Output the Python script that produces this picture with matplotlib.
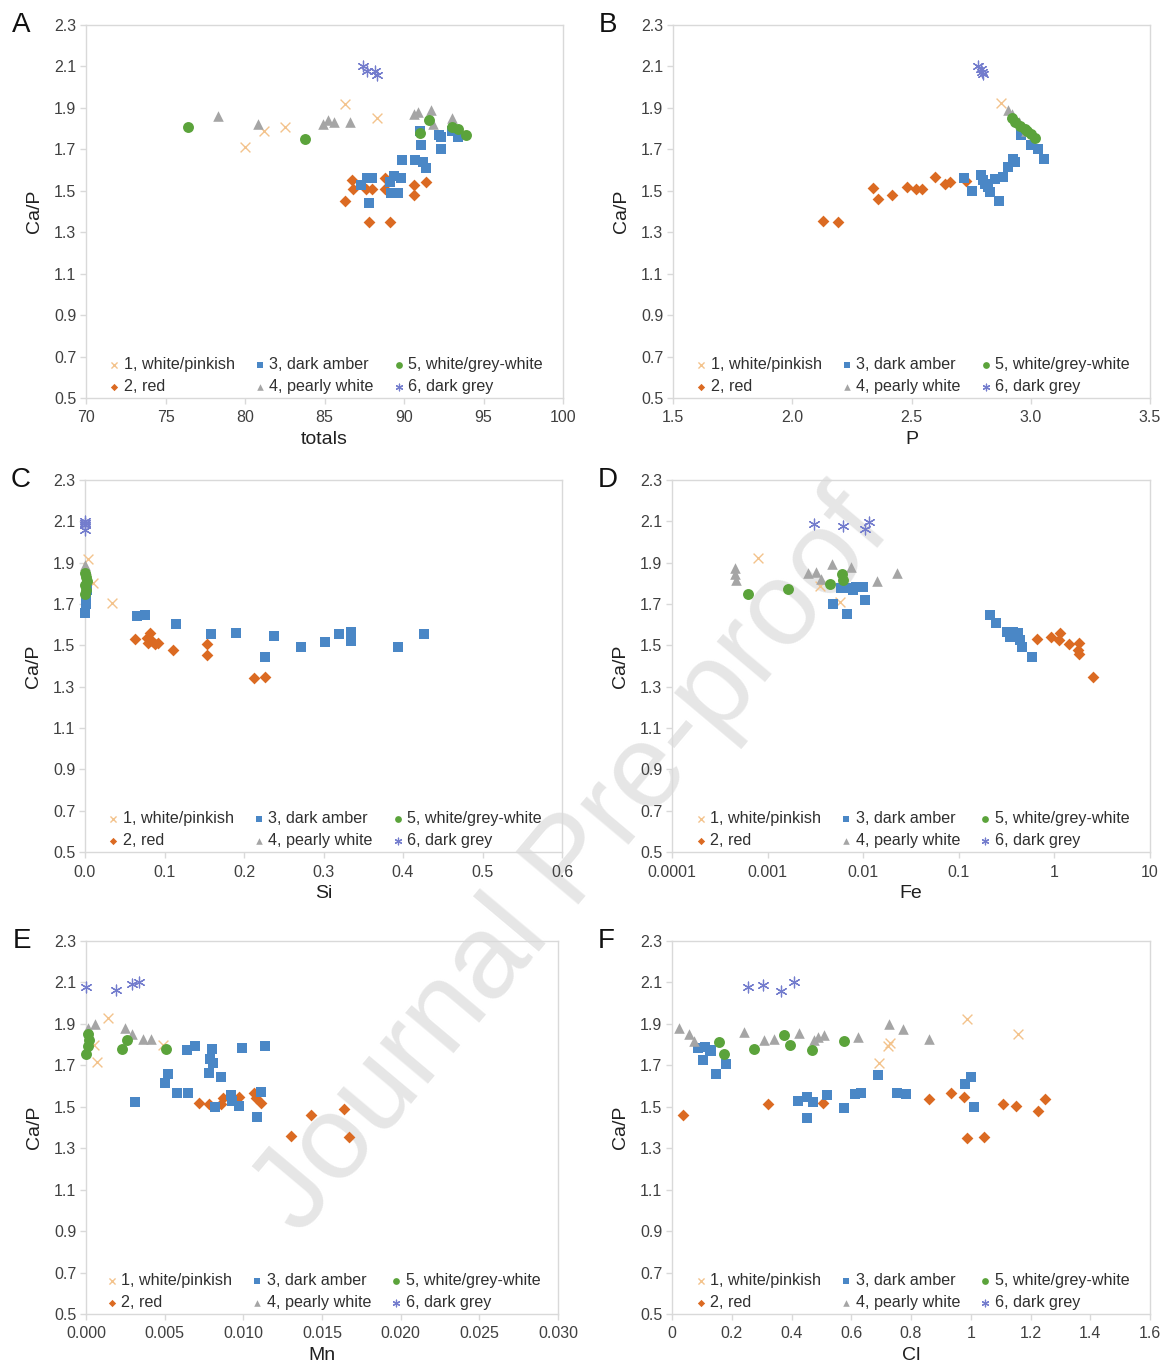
import matplotlib
matplotlib.use("Agg")
import matplotlib.pyplot as plt
from matplotlib.ticker import FixedLocator, NullLocator

plt.rcParams['font.family'] = ['Liberation Sans', 'DejaVu Sans']

# ---------------- data ----------------
group_labels = ["1, white/pinkish", "2, red", "3, dark amber",
                "4, pearly white", "5, white/grey-white", "6, dark grey"]

# Panel A: totals
A_g1_x = [80.0, 81.2, 82.5, 86.3, 88.3]
A_g1_y = [1.71, 1.79, 1.81, 1.92, 1.85]
A_g2_x = [86.7, 86.8, 87.6, 88.0, 88.8, 88.8, 90.6, 91.4, 90.6, 86.3, 87.8, 89.1]
A_g2_y = [1.55, 1.51, 1.51, 1.51, 1.56, 1.51, 1.53, 1.54, 1.48, 1.45, 1.35, 1.35]
A_g3_x = [91.0, 92.2, 92.3, 93.0, 93.4, 91.1, 92.3, 89.9, 90.7, 91.2, 91.4,
          87.7, 88.0, 89.4, 89.8, 87.3, 89.2, 89.6, 87.8, 89.1]
A_g3_y = [1.79, 1.77, 1.76, 1.79, 1.76, 1.72, 1.70, 1.65, 1.65, 1.64, 1.61,
          1.56, 1.56, 1.57, 1.56, 1.53, 1.49, 1.49, 1.44, 1.54]
A_g4_x = [78.3, 80.8, 84.9, 85.2, 85.6, 86.6, 90.6, 90.9, 91.7, 91.8, 93.0]
A_g4_y = [1.86, 1.82, 1.82, 1.84, 1.83, 1.83, 1.87, 1.88, 1.89, 1.82, 1.85]
A_g5_x = [76.4, 83.8, 91.6, 91.0, 93.0, 93.4, 93.9]
A_g5_y = [1.81, 1.75, 1.84, 1.78, 1.81, 1.80, 1.77]
A_g6_x = [87.4, 87.7, 88.2, 88.3]
A_g6_y = [2.10, 2.08, 2.08, 2.06]

# Panel B: P
B_g1_x = [2.875]
B_g1_y = [1.925]
B_g2_x = [2.13, 2.19, 2.34, 2.36, 2.42, 2.48, 2.52, 2.545, 2.60, 2.64, 2.66, 2.73]
B_g2_y = [1.355, 1.35, 1.515, 1.46, 1.48, 1.52, 1.51, 1.51, 1.565, 1.535, 1.54, 1.545]
B_g3_x = [2.72, 2.755, 2.79, 2.81, 2.83, 2.85, 2.865, 2.885, 2.905, 2.925,
          2.935, 2.96, 3.0, 3.03, 3.057, 2.80, 2.82]
B_g3_y = [1.56, 1.50, 1.575, 1.535, 1.495, 1.555, 1.45, 1.565, 1.615, 1.655,
          1.64, 1.77, 1.72, 1.70, 1.655, 1.55, 1.52]
B_g4_x = [2.905, 2.92, 2.95, 2.98]
B_g4_y = [1.89, 1.87, 1.83, 1.79]
B_g5_x = [2.92, 2.935, 2.955, 2.975, 3.0, 3.018, 2.985]
B_g5_y = [1.85, 1.83, 1.815, 1.80, 1.775, 1.755, 1.79]
B_g6_x = [2.78, 2.79, 2.795, 2.80]
B_g6_y = [2.10, 2.09, 2.075, 2.065]

# Panel C: Si
C_g1_x = [0.004, 0.010, 0.034]
C_g1_y = [1.916, 1.80, 1.706]
C_g2_x = [0.063, 0.078, 0.082, 0.084, 0.088, 0.092, 0.079, 0.111, 0.154, 0.154, 0.212, 0.226]
C_g2_y = [1.529, 1.534, 1.558, 1.52, 1.507, 1.51, 1.51, 1.478, 1.507, 1.453, 1.344, 1.345]
C_g3_x = [0.000, 0.001, 0.001, 0.002, 0.065, 0.076, 0.115, 0.159, 0.19, 0.238,
          0.227, 0.272, 0.302, 0.319, 0.335, 0.335, 0.394, 0.426]
C_g3_y = [1.655, 1.70, 1.73, 1.77, 1.64, 1.647, 1.603, 1.555, 1.558, 1.545,
          1.442, 1.49, 1.518, 1.555, 1.566, 1.52, 1.493, 1.555]
C_g4_x = [0.000, 0.001]
C_g4_y = [1.89, 1.87]
C_g5_x = [0.000, 0.001, 0.000, 0.002, 0.001, 0.000]
C_g5_y = [1.75, 1.77, 1.79, 1.81, 1.83, 1.85]
C_g6_x = [0.000, 0.000, 0.000, 0.000]
C_g6_y = [2.06, 2.08, 2.09, 2.10]

# Panel D: Fe (log)
D_g1_x = [0.0008, 0.00353, 0.0057]
D_g1_y = [1.921, 1.787, 1.708]
D_g2_x = [0.653, 0.923, 1.146, 1.13, 1.43, 1.82, 1.78, 1.82, 2.51]
D_g2_y = [1.531, 1.542, 1.561, 1.526, 1.507, 1.51, 1.478, 1.457, 1.348]
D_g3_x = [0.0059, 0.0073, 0.0085, 0.0100, 0.0079, 0.0105, 0.0048, 0.00683,
          0.212, 0.245, 0.317, 0.372, 0.42, 0.437, 0.455, 0.58, 0.34]
D_g3_y = [1.776, 1.776, 1.78, 1.784, 1.77, 1.72, 1.70, 1.652,
          1.647, 1.607, 1.566, 1.563, 1.56, 1.526, 1.493, 1.442, 1.54]
D_g4_x = [0.000456, 0.00046, 0.00047, 0.00267, 0.0032, 0.00362, 0.00468, 0.0074, 0.01406, 0.0228]
D_g4_y = [1.873, 1.845, 1.816, 1.852, 1.856, 1.82, 1.894, 1.88, 1.813, 1.849]
D_g5_x = [0.00063, 0.00165, 0.0045, 0.00596, 0.0062]
D_g5_y = [1.748, 1.773, 1.797, 1.845, 1.816]
D_g6_x = [0.00305, 0.0061, 0.01045, 0.0116]
D_g6_y = [2.086, 2.077, 2.061, 2.098]

# Panel E: Mn
E_g1_x = [0.00142, 0.00068, 0.0005, 0.0049]
E_g1_y = [1.927, 1.718, 1.80, 1.798]
E_g2_x = [0.0072, 0.0078, 0.0086, 0.0087, 0.0097, 0.0107, 0.0108, 0.0111,
          0.0130, 0.0143, 0.0164, 0.0167]
E_g2_y = [1.52, 1.513, 1.513, 1.54, 1.546, 1.565, 1.54, 1.517,
          1.359, 1.459, 1.488, 1.355]
E_g3_x = [0.0031, 0.0050, 0.0052, 0.0058, 0.0065, 0.0064, 0.0069, 0.0080, 0.0079,
          0.0081, 0.0078, 0.0086, 0.0082, 0.0092, 0.0093, 0.0097, 0.0099, 0.0114,
          0.0111, 0.0109]
E_g3_y = [1.524, 1.613, 1.657, 1.565, 1.565, 1.774, 1.793, 1.777, 1.729,
          1.71, 1.661, 1.645, 1.50, 1.557, 1.53, 1.504, 1.785, 1.793,
          1.573, 1.452]
E_g4_x = [0.0001, 0.0006, 0.0025, 0.0029, 0.0036, 0.0041]
E_g4_y = [1.879, 1.90, 1.879, 1.851, 1.826, 1.826]
E_g5_x = [0.0001, 0.0002, 0.0001, 0.0000, 0.0023, 0.0026, 0.0051]
E_g5_y = [1.85, 1.82, 1.793, 1.755, 1.777, 1.822, 1.777]
E_g6_x = [0.0000, 0.0019, 0.0029, 0.0034]
E_g6_y = [2.079, 2.064, 2.092, 2.104]

# Panel F: Cl
F_g1_x = [0.988, 1.157, 0.73, 0.722, 0.693]
F_g1_y = [1.924, 1.851, 1.81, 1.795, 1.71]
F_g2_x = [0.038, 0.322, 0.507, 0.86, 0.933, 0.978, 0.988, 1.045, 1.109, 1.15, 1.224, 1.249]
F_g2_y = [1.46, 1.512, 1.517, 1.537, 1.565, 1.546, 1.35, 1.352, 1.512, 1.505, 1.481, 1.536]
F_g3_x = [0.086, 0.11, 0.127, 0.103, 0.13, 0.18, 0.147, 0.423, 0.453, 0.473,
          0.453, 0.52, 0.577, 0.613, 0.633, 0.691, 0.754, 0.783, 0.981, 1.001, 1.012]
F_g3_y = [1.782, 1.79, 1.774, 1.726, 1.77, 1.705, 1.657, 1.528, 1.549, 1.521,
          1.447, 1.557, 1.495, 1.562, 1.568, 1.653, 1.565, 1.56, 1.608, 1.642, 1.50]
F_g4_x = [0.023, 0.057, 0.075, 0.242, 0.309, 0.343, 0.426, 0.476, 0.49, 0.51,
          0.621, 0.727, 0.772, 0.861]
F_g4_y = [1.882, 1.851, 1.817, 1.859, 1.822, 1.827, 1.855, 1.822, 1.835, 1.846,
          1.835, 1.898, 1.875, 1.826]
F_g5_x = [0.157, 0.175, 0.274, 0.375, 0.395, 0.47, 0.576]
F_g5_y = [1.814, 1.753, 1.777, 1.846, 1.798, 1.774, 1.819]
F_g6_x = [0.253, 0.306, 0.365, 0.41]
F_g6_y = [2.076, 2.088, 2.06, 2.10]

y_ticks = [0.5, 0.7, 0.9, 1.1, 1.3, 1.5, 1.7, 1.9, 2.1, 2.3]
A_ticks = [70, 75, 80, 85, 90, 95, 100]
B_ticks = [1.5, 2.0, 2.5, 3.0, 3.5]
C_ticks = [0.0, 0.1, 0.2, 0.3, 0.4, 0.5, 0.6]
D_ticks = [0.0001, 0.001, 0.01, 0.1, 1, 10]
E_ticks = [0.000, 0.005, 0.010, 0.015, 0.020, 0.025, 0.030]
F_ticks = [0, 0.2, 0.4, 0.6, 0.8, 1.0, 1.2, 1.4, 1.6]
D_ticklabels = ["0.0001", "0.001", "0.01", "0.1", "1", "10"]
F_ticklabels = ["0", "0.2", "0.4", "0.6", "0.8", "1", "1.2", "1.4", "1.6"]

# ---------------- styling ----------------
styles = [
    dict(marker='x', color='#F3C38C', s=50, lw=1.0),
    dict(marker='D', color='#DB6A22', s=36, lw=0),
    dict(marker='s', color='#4A87C6', s=62, lw=0),
    dict(marker='^', color='#A5A5A5', s=58, lw=0),
    dict(marker='o', color='#5BA33B', s=62, lw=0),
    dict(marker=(6, 2, 0), color='#737CCD', s=60, lw=0.9),
]

fig = plt.figure(figsize=(11.7, 13.71), dpi=100)
W, H = 1170.0, 1371.0


def make_ax(l, r, t, b):
    return fig.add_axes([l / W, 1 - b / H, (r - l) / W, (b - t) / H])


panels = [
    ("A", make_ax(86, 563, 25, 398), "totals", (70, 100), A_ticks, None, False,
     [(A_g1_x, A_g1_y), (A_g2_x, A_g2_y), (A_g3_x, A_g3_y), (A_g4_x, A_g4_y), (A_g5_x, A_g5_y), (A_g6_x, A_g6_y)],
     "{:.0f}"),
    ("B", make_ax(673, 1150, 25, 398), "P", (1.5, 3.5), B_ticks, None, False,
     [(B_g1_x, B_g1_y), (B_g2_x, B_g2_y), (B_g3_x, B_g3_y), (B_g4_x, B_g4_y), (B_g5_x, B_g5_y), (B_g6_x, B_g6_y)],
     "{:.1f}"),
    ("C", make_ax(85, 562, 480, 852), "Si", (0, 0.6), C_ticks, None, False,
     [(C_g1_x, C_g1_y), (C_g2_x, C_g2_y), (C_g3_x, C_g3_y), (C_g4_x, C_g4_y), (C_g5_x, C_g5_y), (C_g6_x, C_g6_y)],
     "{:.1f}"),
    ("D", make_ax(672, 1150, 480, 852), "Fe", (0.0001, 10), D_ticks, D_ticklabels, True,
     [(D_g1_x, D_g1_y), (D_g2_x, D_g2_y), (D_g3_x, D_g3_y), (D_g4_x, D_g4_y), (D_g5_x, D_g5_y), (D_g6_x, D_g6_y)],
     None),
    ("E", make_ax(86, 558, 941, 1314), "Mn", (0, 0.030), E_ticks, None, False,
     [(E_g1_x, E_g1_y), (E_g2_x, E_g2_y), (E_g3_x, E_g3_y), (E_g4_x, E_g4_y), (E_g5_x, E_g5_y), (E_g6_x, E_g6_y)],
     "{:.3f}"),
    ("F", make_ax(672, 1150, 941, 1314), "Cl", (0, 1.6), F_ticks, F_ticklabels, False,
     [(F_g1_x, F_g1_y), (F_g2_x, F_g2_y), (F_g3_x, F_g3_y), (F_g4_x, F_g4_y), (F_g5_x, F_g5_y), (F_g6_x, F_g6_y)],
     None),
]

spine_c = '#D9D9D9'
text_c = '#404040'

for letter, ax, xlabel, xlim, xticks, xticklabels, logx, groups, fmt in panels:
    ax.set_facecolor('none')
    if logx:
        ax.set_xscale('log')
    handles = []
    for (xs, ys), st, lab in zip(groups, styles, group_labels):
        h = ax.scatter(xs, ys, marker=st['marker'], s=st['s'], c=st['color'],
                       linewidths=st['lw'], label=lab, clip_on=False, zorder=3)
        handles.append(h)
    ax.set_xlim(*xlim)
    ax.set_ylim(0.5, 2.3)
    ax.yaxis.set_major_locator(FixedLocator(y_ticks))
    ax.set_yticklabels(["{:.1f}".format(v) for v in y_ticks])
    ax.xaxis.set_major_locator(FixedLocator(xticks))
    ax.xaxis.set_minor_locator(NullLocator())
    if xticklabels is None:
        xticklabels = [fmt.format(v) for v in xticks]
    ax.set_xticklabels(xticklabels)
    for sp in ax.spines.values():
        sp.set_color(spine_c)
        sp.set_linewidth(1.0)
    ax.tick_params(axis='both', colors=spine_c, labelcolor=text_c, labelsize=11.5,
                   length=4, width=1.0, direction='out')
    ax.tick_params(axis='x', pad=5)
    ax.tick_params(axis='y', pad=3)
    ax.set_xlabel(xlabel, fontsize=14, color='#202020', labelpad=4)
    ax.set_ylabel("Ca/P", fontsize=14, color='#202020', labelpad=8)
    leg = ax.legend(handles=handles, ncol=3, loc='lower center', bbox_to_anchor=(0.5, -0.028),
                    frameon=False, fontsize=11.6, markerscale=0.62, handletextpad=0.1,
                    columnspacing=1.05, labelspacing=0.4, handlelength=1.0,
                    scatterpoints=1)
    for t in leg.get_texts():
        t.set_color('#303030')
    ax.text(-0.155, 1.0, letter, transform=ax.transAxes, fontsize=20, color='#111111',
            ha='left', va='center')

fig.text(0.49, 0.37, "Journal Pre-proof", fontsize=86, color='#E2E2E2', alpha=0.85,
         rotation=50, ha='center', va='center', zorder=-1)

fig.savefig("out.png", dpi=100)
